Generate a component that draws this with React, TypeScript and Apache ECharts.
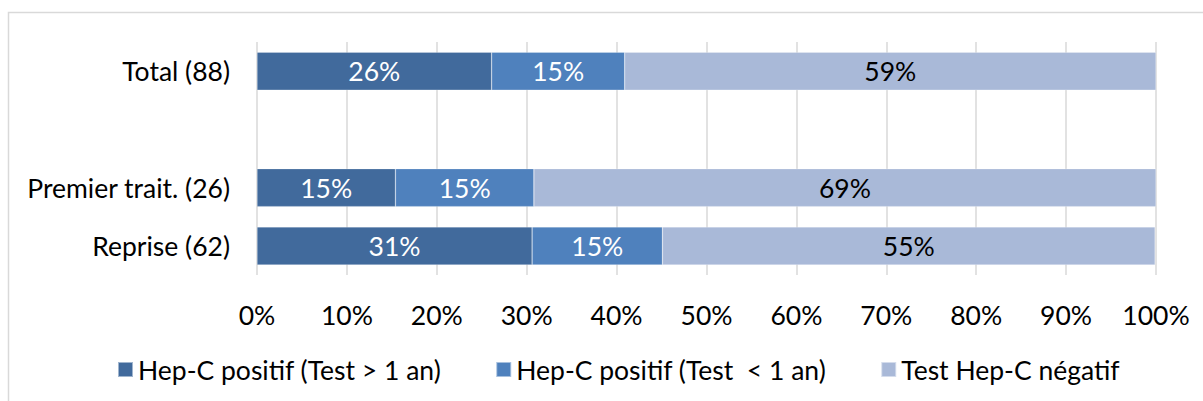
import React, { useEffect, useRef } from "react";
import * as echarts from "echarts";

const categories = ["Total (88)", "", "Premier trait. (26)", "Reprise (62)"];
const seriesNames = [
  "Hep-C positif (Test > 1 an)",
  "Hep-C positif (Test  < 1 an)",
  "Test Hep-C négatif",
];
const positifOld = [26.1, null, 15.4, 30.6];
const positifRecent = [14.8, null, 15.4, 14.5];
const negatif = [59.1, null, 69.2, 54.8];
const colors = ["#416A9C", "#4F81BD", "#A9B9D8"];
const labelColors = ["#ffffff", "#ffffff", "#000000"];
const xTicks = { min: 0, max: 100, interval: 10 };

const FONT = "Lato, 'Open Sans', sans-serif";
const FS = 26.5;

export default function App() {
  const ref = useRef<HTMLDivElement>(null);
  useEffect(() => {
    document.body.style.margin = "0";
    const chart = echarts.init(ref.current!, null, { renderer: "svg" });
    const values = [positifOld, positifRecent, negatif];
    chart.setOption({
      animation: false,
      textStyle: { fontFamily: FONT },
      grid: { left: 257, right: 47, top: 42, bottom: 126 },
      xAxis: {
        type: "value",
        min: xTicks.min,
        max: xTicks.max,
        interval: xTicks.interval,
        axisLine: { show: false },
        axisTick: { show: false },
        splitLine: { show: true, lineStyle: { color: "#d9d9d9", width: 1.5 } },
        axisLabel: {
          formatter: "{value}%",
          color: "#000",
          fontSize: FS,
          fontFamily: FONT,
          margin: 26,
        },
      },
      yAxis: {
        type: "category",
        inverse: true,
        data: categories,
        axisLine: { show: false },
        axisTick: { show: false },
        axisLabel: { color: "#000", fontSize: FS, fontFamily: FONT, margin: 27 },
      },
      legend: {
        bottom: 13,
        left: 112,
        icon: "rect",
        itemWidth: 15,
        itemHeight: 15,
        itemGap: 54,
        textStyle: { color: "#000", fontSize: FS, fontFamily: FONT },
        data: seriesNames,
      },
      graphic: [
        {
          type: "rect",
          shape: { x: 8.5, y: 12.5, width: 1200, height: 400 },
          style: { fill: "none", stroke: "#d9d9d9", lineWidth: 1.5 },
          silent: true,
        },
      ],
      series: seriesNames.map((name, i) => ({
        name,
        type: "bar",
        stack: "total",
        barWidth: 38,
        data: values[i],
        itemStyle: { color: colors[i], borderColor: "rgba(255,255,255,0.5)", borderWidth: 0.5 },
        label: {
          show: true,
          position: "inside",
          color: labelColors[i],
          fontSize: FS,
          fontFamily: FONT,
          formatter: (p: any) => (p.value == null ? "" : Math.round(p.value) + "%"),
        },
      })),
    });
    return () => chart.dispose();
  }, []);
  return <div ref={ref} style={{ width: 1203, height: 401 }} />;
}
